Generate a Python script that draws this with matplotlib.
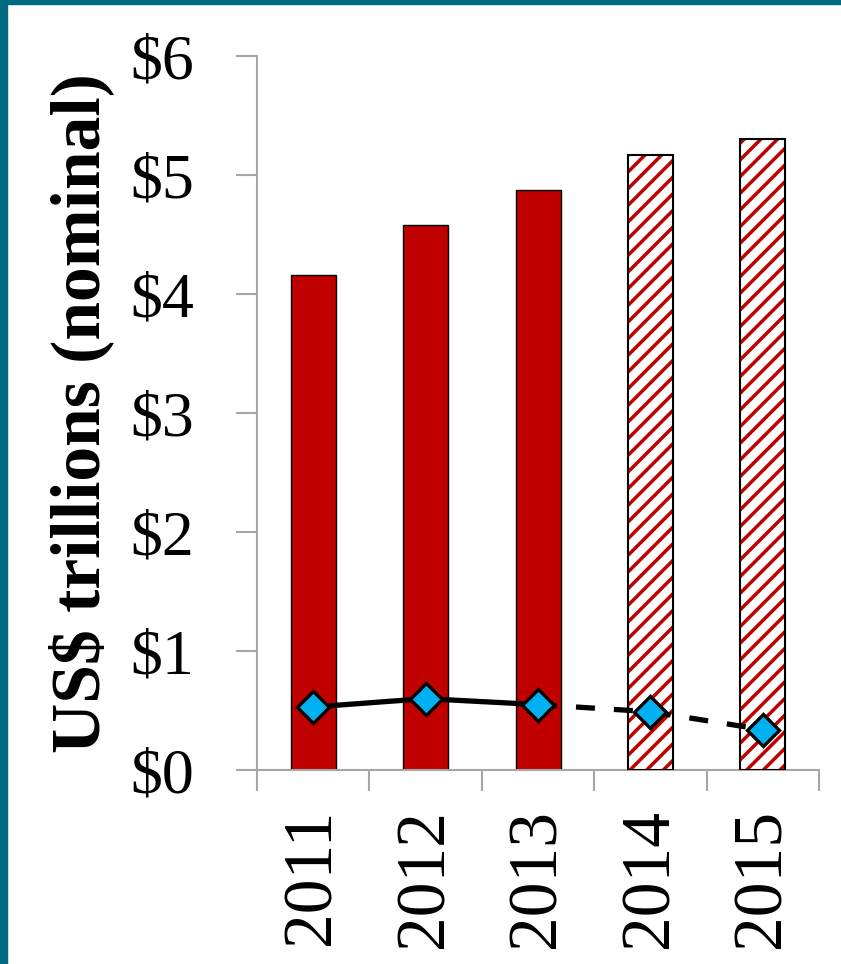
import numpy as np
import matplotlib.pyplot as plt
from matplotlib.patches import Rectangle

years = ["2011", "2012", "2013", "2014", "2015"]
totals = [4.16, 4.58, 4.87, 5.17, 5.30]
line_vals = [0.53, 0.60, 0.55, 0.49, 0.34]
n_actual = 3  # first three years are actual, the rest are forecasts

red = "#C00000"
blue = "#00B0F0"
grey = "#A6A6A6"

plt.rcParams["font.family"] = ["Liberation Serif", "DejaVu Serif"]
plt.rcParams["hatch.linewidth"] = 2.5

fig = plt.figure(figsize=(8.41, 9.64), dpi=100)
ax = fig.add_axes([0.3056, 0.2012, 0.6683, 0.7407])

x = np.arange(len(years))
width = 0.4

ax.bar(x[:n_actual], totals[:n_actual], width, color=red,
       edgecolor="black", linewidth=1, zorder=2)
# forecast bars: red hatch on white, black outline on top
ax.bar(x[n_actual:], totals[n_actual:], width, color="white",
       edgecolor=red, hatch="//", linewidth=0, zorder=2)
ax.bar(x[n_actual:], totals[n_actual:], width, fill=False,
       edgecolor="black", linewidth=1.5, zorder=3)

ax.plot(x[:n_actual], line_vals[:n_actual], color="black", lw=3.8, zorder=4,
        solid_capstyle="round")
ax.plot(x[n_actual - 1:], line_vals[n_actual - 1:], color="black", lw=3.8,
        ls=(0, (3.6, 3.6)), zorder=4)
ax.plot(x, line_vals, ls="none", marker="D", ms=16.5, mfc=blue, mec="black",
        mew=2.4, zorder=5)

ax.set_xlim(-0.5, len(years) - 0.5)
ax.set_ylim(0, 6)
ax.set_yticks(range(7))
ax.set_yticklabels([f"${v}" for v in range(7)], fontsize=46)
ax.set_xticks(np.arange(len(years) + 1) - 0.5)
ax.set_xticklabels([])
ax.set_xticks(x, minor=True)
ax.set_xticklabels(years, minor=True, rotation=90, fontsize=50)
ax.tick_params(axis="x", which="minor", length=0, pad=28)
ax.tick_params(axis="both", which="major", length=15, width=1.5,
               color=grey, direction="out")
ax.tick_params(axis="y", pad=30)

for side in ["top", "right"]:
    ax.spines[side].set_visible(False)
for side in ["left", "bottom"]:
    ax.spines[side].set_color(grey)
    ax.spines[side].set_linewidth(1.5)

ax.set_ylabel("US$ trillions (nominal)", fontsize=50, fontweight="bold")
ax.yaxis.set_label_coords(-0.255, 0.5)

# teal frame along top and left edge
teal = "#006A80"
fig.patches.append(Rectangle((0, 0), 0.0083, 1, transform=fig.transFigure,
                             color=teal, zorder=10))
fig.patches.append(Rectangle((0, 0.9955), 1, 0.0045, transform=fig.transFigure,
                             color=teal, zorder=10))

fig.savefig("out.png", dpi=100)
